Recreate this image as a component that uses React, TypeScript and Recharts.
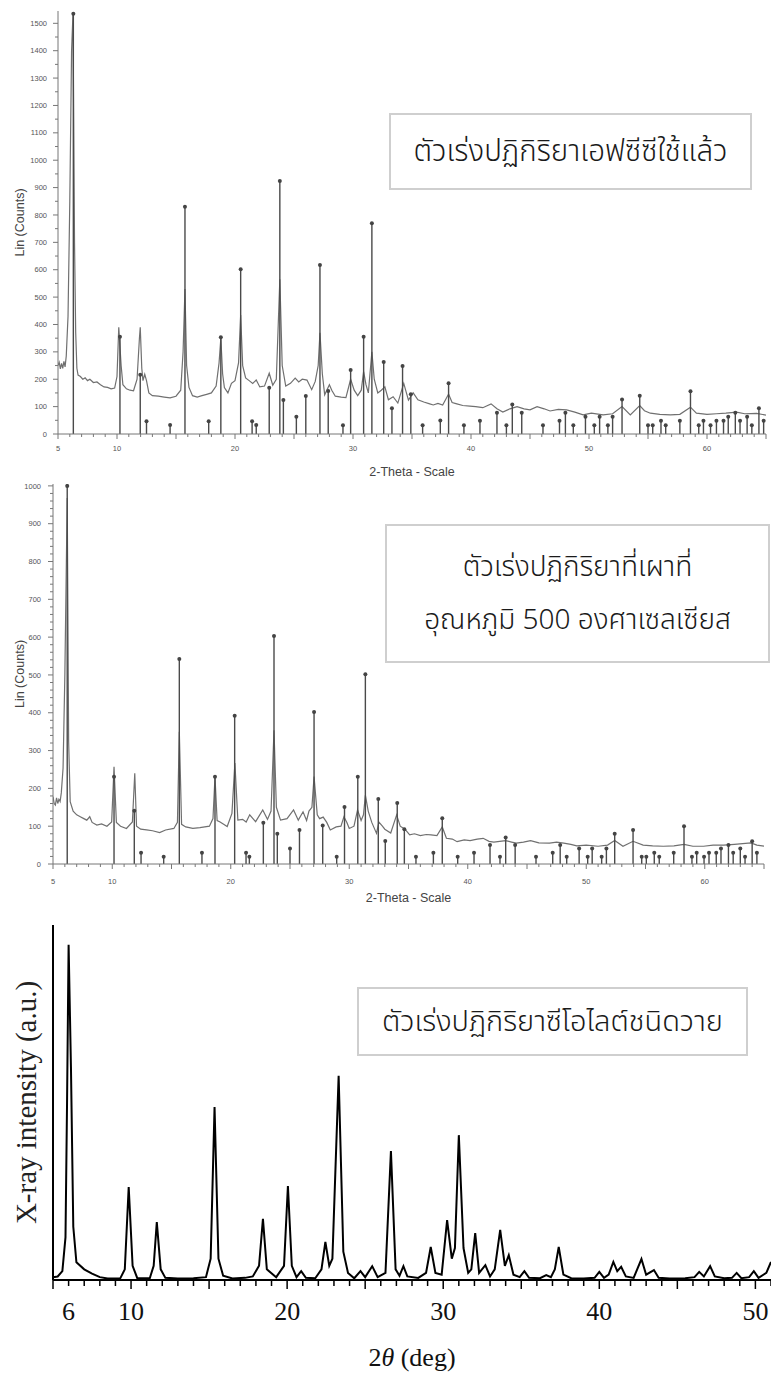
import React from "react";
import { ComposedChart, Line, Scatter, XAxis, YAxis, ReferenceLine } from "recharts";

// ---- panel 1: used FCC catalyst (2-theta, counts) ----
const profile1: [number, number][] = [
  [5.0, 250], [5.1, 262], [5.2, 238], [5.3, 258], [5.4, 240], [5.5, 265], [5.6, 245], [5.7, 285], [5.85, 430],
  [6.0, 850], [6.15, 1400], [6.27, 1535], [6.4, 700], [6.5, 370], [6.6, 240], [6.7, 215], [6.9, 210], [7.1, 200],
  [7.3, 205], [7.5, 195], [7.7, 200], [8.0, 188], [8.3, 190], [8.6, 180], [8.9, 172], [9.2, 170], [9.5, 165],
  [9.8, 168], [10.0, 210], [10.15, 390], [10.35, 250], [10.5, 180], [10.8, 165], [11.1, 160], [11.4, 158],
  [11.7, 200], [11.9, 350], [11.97, 390], [12.1, 240], [12.2, 195], [12.35, 218], [12.5, 195], [12.7, 150],
  [13.0, 140], [13.5, 138], [14.0, 135], [14.5, 132], [15.0, 138], [15.4, 160], [15.6, 300], [15.76, 530],
  [15.9, 250], [16.1, 170], [16.4, 140], [16.8, 135], [17.2, 140], [17.6, 145], [18.0, 150], [18.4, 175],
  [18.65, 260], [18.8, 350], [18.95, 220], [19.1, 170], [19.4, 150], [19.7, 185], [20.0, 195], [20.3, 260],
  [20.48, 435], [20.65, 250], [20.9, 205], [21.2, 195], [21.5, 185], [21.8, 197], [22.1, 172], [22.5, 175],
  [22.9, 222], [23.2, 178], [23.5, 200], [23.8, 565], [24.0, 250], [24.3, 175], [24.7, 185], [25.1, 204],
  [25.4, 190], [25.7, 200], [26.1, 197], [26.5, 162], [26.8, 192], [27.05, 250], [27.2, 370], [27.4, 220],
  [27.6, 143], [28.0, 180], [28.2, 160], [28.5, 138], [29.0, 135], [29.4, 133], [29.8, 200], [30.1, 160],
  [30.4, 140], [30.7, 160], [30.9, 228], [31.1, 180], [31.3, 150], [31.6, 300], [31.8, 200], [32.1, 150],
  [32.4, 160], [32.7, 172], [33.0, 125], [33.4, 136], [33.8, 113], [34.3, 185], [34.7, 124], [35.1, 150],
  [35.5, 125], [36.0, 117], [36.5, 110], [36.8, 106], [37.2, 112], [37.6, 106], [38.1, 146], [38.4, 115],
  [38.8, 110], [39.3, 104], [39.9, 102], [40.4, 100], [41.0, 96], [41.7, 110], [42.2, 92], [42.7, 80],
  [43.3, 92], [43.9, 100], [44.5, 92], [45.0, 88], [45.6, 100], [46.2, 92], [46.7, 84], [47.4, 90], [48.1, 88],
  [48.8, 80], [49.5, 70], [50.2, 76], [51.2, 70], [52.0, 74], [52.8, 100], [53.5, 70], [54.3, 104], [54.7, 85],
  [55.2, 76], [56.0, 72], [56.9, 70], [57.7, 72], [58.6, 98], [59.1, 76], [60.0, 72], [60.8, 74], [61.6, 76],
  [62.5, 80], [63.2, 74], [64.2, 75], [65.0, 69],
];
const sticks1: [number, number][] = [
  [6.3, 1535], [10.25, 355], [11.97, 216], [12.5, 47], [14.5, 33], [15.76, 830], [17.77, 47], [18.8, 353],
  [20.48, 602], [21.45, 47], [21.8, 33], [22.9, 169], [23.8, 924], [24.1, 124], [25.2, 63], [26.0, 139],
  [27.2, 617], [27.9, 157], [29.15, 32], [29.8, 234], [30.9, 355], [31.6, 770], [32.6, 263], [33.3, 94],
  [34.2, 248], [34.9, 145], [35.9, 32], [37.4, 49], [38.1, 185], [39.4, 32], [40.76, 48], [42.2, 78], [43.0, 32],
  [43.5, 108], [44.3, 78], [46.1, 32], [47.5, 48], [48.0, 78], [48.67, 32], [49.7, 63], [50.45, 32], [50.9, 63],
  [51.6, 32], [52.0, 63], [52.8, 126], [54.3, 140], [55.0, 32], [55.4, 32], [56.1, 48], [56.5, 32], [57.7, 48],
  [58.6, 156], [59.3, 32], [59.7, 48], [60.3, 32], [60.8, 48], [61.4, 48], [61.8, 63], [62.4, 78], [62.8, 48],
  [63.4, 63], [63.8, 32], [64.4, 94], [64.8, 48],
];
const xLabels1 = [5, 10, 20, 30, 40, 50, 60];
const yLabels1 = [0, 100, 200, 300, 400, 500, 600, 700, 800, 900, 1000, 1100, 1200, 1300, 1400, 1500];

// ---- panel 2: catalyst calcined at 500 C ----
const profile2: [number, number][] = [
  [5.0, 178], [5.1, 160], [5.2, 156], [5.3, 175], [5.4, 160], [5.5, 171], [5.6, 165], [5.7, 188], [5.85, 254],
  [6.0, 500], [6.2, 968], [6.32, 324], [6.45, 165], [6.7, 140], [7.0, 130], [7.3, 125], [7.6, 120], [7.85, 116],
  [8.1, 125], [8.3, 110], [8.7, 103], [9.1, 106], [9.55, 100], [9.95, 111], [10.15, 257], [10.35, 110],
  [10.7, 100], [11.2, 94], [11.7, 111], [11.9, 240], [12.05, 100], [12.4, 92], [12.9, 90], [13.4, 88], [14.0, 83],
  [14.5, 90], [15.2, 94], [15.5, 110], [15.66, 350], [15.85, 105], [16.2, 98], [16.8, 94], [17.4, 96],
  [18.2, 100], [18.5, 120], [18.67, 231], [18.85, 115], [19.1, 111], [19.4, 105], [19.7, 99], [20.1, 134],
  [20.35, 267], [20.6, 116], [21.0, 118], [21.3, 111], [21.6, 130], [22.1, 112], [22.7, 143], [23.1, 118],
  [23.4, 140], [23.65, 354], [23.85, 150], [24.2, 116], [24.75, 120], [25.3, 143], [25.7, 116], [26.1, 138],
  [26.4, 115], [26.6, 140], [26.85, 150], [27.03, 231], [27.3, 130], [27.5, 120], [27.8, 124], [28.1, 110],
  [28.4, 90], [28.9, 98], [29.3, 100], [29.55, 125], [29.8, 110], [30.0, 94], [30.4, 100], [30.7, 143],
  [31.0, 115], [31.2, 130], [31.36, 182], [31.6, 140], [31.9, 110], [32.3, 81], [32.5, 111], [32.8, 100],
  [33.0, 92], [33.5, 82], [34.0, 130], [34.3, 100], [34.7, 92], [35.1, 77], [35.5, 80], [36.0, 75], [36.5, 78],
  [36.9, 77], [37.4, 75], [37.85, 98], [38.2, 68], [38.7, 66], [39.1, 59], [39.7, 64], [40.2, 62], [40.8, 66],
  [41.3, 68], [41.8, 60], [42.2, 58], [42.7, 60], [43.2, 62], [43.7, 58], [44.1, 55], [44.7, 58], [45.3, 62],
  [46.0, 56], [46.9, 55], [47.5, 58], [48.1, 55], [48.7, 52], [49.2, 48], [50.0, 50], [51.0, 47], [51.8, 50],
  [52.4, 62], [53.1, 47], [53.95, 60], [54.8, 50], [55.6, 48], [56.5, 47], [57.4, 48], [58.25, 52], [59.0, 47],
  [59.9, 47], [60.7, 50], [61.6, 50], [62.5, 52], [63.2, 54], [63.9, 56], [64.4, 50], [65.0, 47],
];
const sticks2: [number, number][] = [
  [6.2, 1000], [10.15, 231], [11.86, 141], [12.43, 30], [14.34, 19], [15.66, 542], [17.57, 30], [18.67, 231],
  [20.33, 392], [21.29, 30], [21.57, 19], [22.75, 109], [23.65, 603], [23.93, 80], [25.0, 41], [25.8, 90],
  [27.03, 402], [27.76, 102], [28.94, 19], [29.6, 151], [30.72, 231], [31.36, 502], [32.45, 172], [33.04, 61],
  [34.05, 161], [34.65, 92], [35.63, 19], [37.1, 30], [37.85, 121], [39.15, 19], [40.53, 30], [41.88, 50],
  [42.72, 19], [43.2, 70], [44.0, 50], [45.76, 19], [47.17, 30], [47.8, 50], [48.35, 19], [49.4, 41],
  [50.12, 19], [50.5, 41], [51.3, 19], [51.7, 41], [52.4, 80], [53.95, 90], [54.68, 19], [55.07, 19],
  [55.74, 30], [56.16, 19], [57.38, 30], [58.25, 100], [58.92, 19], [59.32, 30], [59.94, 19], [60.36, 30],
  [60.97, 30], [61.37, 41], [62.0, 50], [62.4, 30], [63.0, 41], [63.4, 19], [64.0, 60], [64.4, 30],
];
const xLabels2 = [5, 10, 20, 30, 40, 50, 60];
const yLabels2 = [0, 100, 200, 300, 400, 500, 600, 700, 800, 900, 1000];

// ---- panel 3: Y zeolite catalyst (a.u.) ----
const profile3: [number, number][] = [
  [5.0, 8], [5.3, 10], [5.6, 25], [5.8, 120], [5.9, 500], [6.0, 944], [6.15, 600], [6.3, 150], [6.5, 50],
  [7.0, 30], [7.5, 18], [8.0, 8], [8.5, 4], [9.3, 4], [9.6, 30], [9.85, 262], [10.1, 40], [10.4, 5], [11.2, 5],
  [11.45, 40], [11.65, 163], [11.9, 30], [12.2, 6], [13.0, 4], [14.0, 5], [14.8, 8], [15.1, 60], [15.35, 487],
  [15.6, 60], [15.9, 12], [16.5, 4], [17.3, 6], [17.8, 10], [18.2, 40], [18.45, 172], [18.7, 30], [19.3, 8],
  [19.8, 40], [20.05, 265], [20.3, 40], [20.6, 8], [20.9, 25], [21.2, 6], [21.8, 5], [22.2, 30], [22.45, 107],
  [22.7, 40], [22.9, 60], [23.3, 575], [23.6, 80], [23.9, 20], [24.3, 5], [24.7, 25], [25.0, 8], [25.45, 39],
  [25.8, 8], [26.3, 20], [26.65, 363], [26.95, 30], [27.2, 12], [27.45, 39], [27.7, 10], [28.4, 6], [28.9, 20],
  [29.2, 93], [29.5, 20], [29.9, 15], [30.25, 169], [30.55, 60], [30.75, 90], [31.0, 408], [31.3, 90],
  [31.6, 20], [31.8, 30], [32.05, 132], [32.3, 20], [32.7, 42], [33.0, 10], [33.3, 30], [33.65, 141],
  [33.95, 40], [34.2, 70], [34.5, 15], [34.9, 8], [35.2, 25], [35.5, 6], [36.2, 5], [36.6, 14], [36.9, 8],
  [37.15, 30], [37.4, 93], [37.7, 15], [38.2, 5], [39.0, 4], [39.7, 6], [40.0, 23], [40.3, 6], [40.6, 15],
  [40.9, 51], [41.15, 25], [41.4, 37], [41.7, 10], [42.2, 6], [42.7, 59], [43.0, 15], [43.5, 28], [43.8, 6],
  [44.5, 4], [45.5, 5], [46.1, 8], [46.4, 23], [46.7, 10], [47.1, 39], [47.4, 10], [48.0, 5], [48.5, 6],
  [48.8, 20], [49.1, 5], [49.6, 8], [49.9, 25], [50.2, 6], [50.7, 20], [51.0, 51],
];
const xLabels3 = [6, 10, 20, 30, 40, 50];

const toPts = (a: [number, number][]) => a.map(([x, y]) => ({ x, y }));
const range = (a: number, b: number, s: number) => {
  const r: number[] = [];
  for (let v = a; v <= b + 1e-9; v += s) r.push(Math.round(v * 100) / 100);
  return r;
};

const SANS = "'Liberation Sans', Arial, sans-serif";
const SERIF = "'Liberation Serif', 'Times New Roman', serif";
const THAI = "'Noto Sans Thai', 'Noto Sans Thai Looped', 'Noto Sans', 'DejaVu Sans', sans-serif";

const makeXTick = (labels: number[], dy: number, font: string, size: number, color: string, minor: number, major: number, sw: number) =>
  (p: any) => {
    const v = p.payload.value;
    const isMajor = v % 5 === 0;
    return (
      <g>
        <line x1={p.x} x2={p.x} y1={p.y} y2={p.y + (isMajor ? major : minor)} stroke={color} strokeWidth={sw} />
        {labels.includes(v) && (
          <text x={p.x} y={p.y + dy} textAnchor="middle" fontFamily={font} fontSize={size} fill={color === "#000" ? "#111" : "#555"}>
            {v}
          </text>
        )}
      </g>
    );
  };

const makeYTick = (labels: number[], gap: number) => (p: any) => {
  const v = p.payload.value;
  const isLab = labels.includes(v);
  return (
    <g>
      <line x1={p.x - (isLab ? 5 : 3)} x2={p.x} y1={p.y} y2={p.y} stroke="#777" strokeWidth={1} />
      {isLab && (
        <text x={p.x - gap} y={p.y} dy="0.35em" textAnchor="end" fontFamily={SANS} fontSize={7.5} fill="#555">
          {v}
        </text>
      )}
    </g>
  );
};

const Marker = (p: any) => <circle cx={p.cx} cy={p.cy} r={2} fill="#444" />;

const XrdPanel = ({ profile, sticks, top, height, mTop, mRight, yW, yMax, yStep, yLabels, xLabels, yGap, xDy, titleOffset }: any) => (
  <div style={{ position: "absolute", left: 0, top }}>
    <ComposedChart width={771} height={height} margin={{ top: mTop, right: mRight, bottom: 0, left: 0 }}>
      <XAxis
        type="number"
        dataKey="x"
        domain={[5, 65]}
        allowDataOverflow
        ticks={range(5, 65, 1)}
        interval={0}
        tickSize={0}
        tickMargin={0}
        tickLine={false}
        height={46}
        stroke="#777"
        tick={makeXTick(xLabels, xDy, SANS, 7.5, "#777", 3, 5, 1)}
        label={{ value: "2-Theta - Scale", position: "insideBottom", offset: titleOffset, fontFamily: SANS, fontSize: 12.5, fill: "#444" }}
      />
      <YAxis
        type="number"
        domain={[0, yMax]}
        allowDataOverflow
        ticks={range(0, yLabels[yLabels.length - 1], yStep)}
        interval={0}
        tickSize={0}
        tickMargin={0}
        tickLine={false}
        width={yW}
        stroke="#777"
        tick={makeYTick(yLabels, yGap)}
        label={{ value: "Lin (Counts)", angle: -90, position: "insideLeft", offset: 20, fontFamily: SANS, fontSize: 12.5, fill: "#444", style: { textAnchor: "middle" } }}
      />
      <Line data={toPts(profile)} dataKey="y" type="linear" dot={false} stroke="#707070" strokeWidth={1.2} isAnimationActive={false} />
      {sticks.map(([x, y]: [number, number], i: number) => (
        <ReferenceLine key={i} segment={[{ x, y: 0 }, { x, y }]} stroke="#4a4a4a" strokeWidth={1.4} ifOverflow="visible" />
      ))}
      <Scatter data={toPts(sticks)} dataKey="y" shape={Marker} isAnimationActive={false} />
    </ComposedChart>
  </div>
);

const box: React.CSSProperties = {
  position: "absolute",
  border: "2px solid #cfcfcf",
  boxSizing: "border-box",
  background: "#fff",
  fontFamily: THAI,
  fontWeight: 300,
  color: "#1a1a1a",
  display: "flex",
  flexDirection: "column",
  alignItems: "center",
  justifyContent: "center",
  textAlign: "center",
  whiteSpace: "nowrap",
};

export default function App() {
  return (
    <div style={{ position: "absolute", left: 0, top: 0, width: 771, height: 1378, background: "#fff", overflow: "hidden" }}>
      <XrdPanel profile={profile1} sticks={sticks1} top={0} height={480} mTop={11} mRight={5} yW={58} yMax={1545}
        yStep={50} yLabels={yLabels1} xLabels={xLabels1} yGap={11} xDy={17} titleOffset={4} />
      <XrdPanel profile={profile2} sticks={sticks2} top={470} height={440} mTop={14} mRight={7} yW={53} yMax={1005}
        yStep={20} yLabels={yLabels2} xLabels={xLabels2} yGap={12} xDy={20} titleOffset={8} />

      <div style={{ position: "absolute", left: 0, top: 900 }}>
        <ComposedChart width={771} height={478} margin={{ top: 25, right: 0, bottom: 0, left: 0 }}>
          <XAxis
            type="number"
            dataKey="x"
            domain={[5, 51]}
            allowDataOverflow
            ticks={range(5, 51, 1)}
            interval={0}
            tickSize={0}
            tickMargin={0}
            tickLine={false}
            height={98}
            stroke="#000"
            strokeWidth={2}
            tick={makeXTick(xLabels3, 40, SERIF, 26, "#000", 6, 9, 1.5)}
            label={{
              position: "insideBottom",
              offset: 10,
              content: (p: any) => {
                const vb = p.viewBox || { x: 53, y: 380, width: 718, height: 98 };
                return (
                  <text x={vb.x + vb.width / 2} y={vb.y + vb.height - 12} textAnchor="middle" fontFamily={SERIF} fontSize={26} fill="#111">
                    2<tspan fontStyle="italic">θ</tspan> (deg)
                  </text>
                );
              },
            }}
          />
          <YAxis
            type="number"
            domain={[0, 1000]}
            allowDataOverflow
            ticks={[]}
            tick={false}
            tickLine={false}
            width={53}
            stroke="#000"
            strokeWidth={2}
            label={{ value: "X-ray intensity (a.u.)", angle: -90, position: "insideLeft", offset: 26, fontFamily: SERIF, fontSize: 29, fill: "#222", style: { textAnchor: "middle" } }}
          />
          <Line data={toPts(profile3)} dataKey="y" type="linear" dot={false} stroke="#000" strokeWidth={2} isAnimationActive={false} />
        </ComposedChart>
      </div>

      <div style={{ ...box, left: 389, top: 113, width: 363, height: 77, fontSize: 29.5 }}>ตัวเร่งปฏิกิริยาเอฟซีซีใช้แล้ว</div>
      <div style={{ ...box, left: 385, top: 524, width: 385, height: 139, fontSize: 28, lineHeight: "53px" }}>
        <div>ตัวเร่งปฏิกิริยาที่เผาที่</div>
        <div>อุณหภูมิ 500 องศาเซลเซียส</div>
      </div>
      <div style={{ ...box, left: 357, top: 987, width: 391, height: 69, fontSize: 29 }}>ตัวเร่งปฏิกิริยาซีโอไลต์ชนิดวาย</div>
    </div>
  );
}
